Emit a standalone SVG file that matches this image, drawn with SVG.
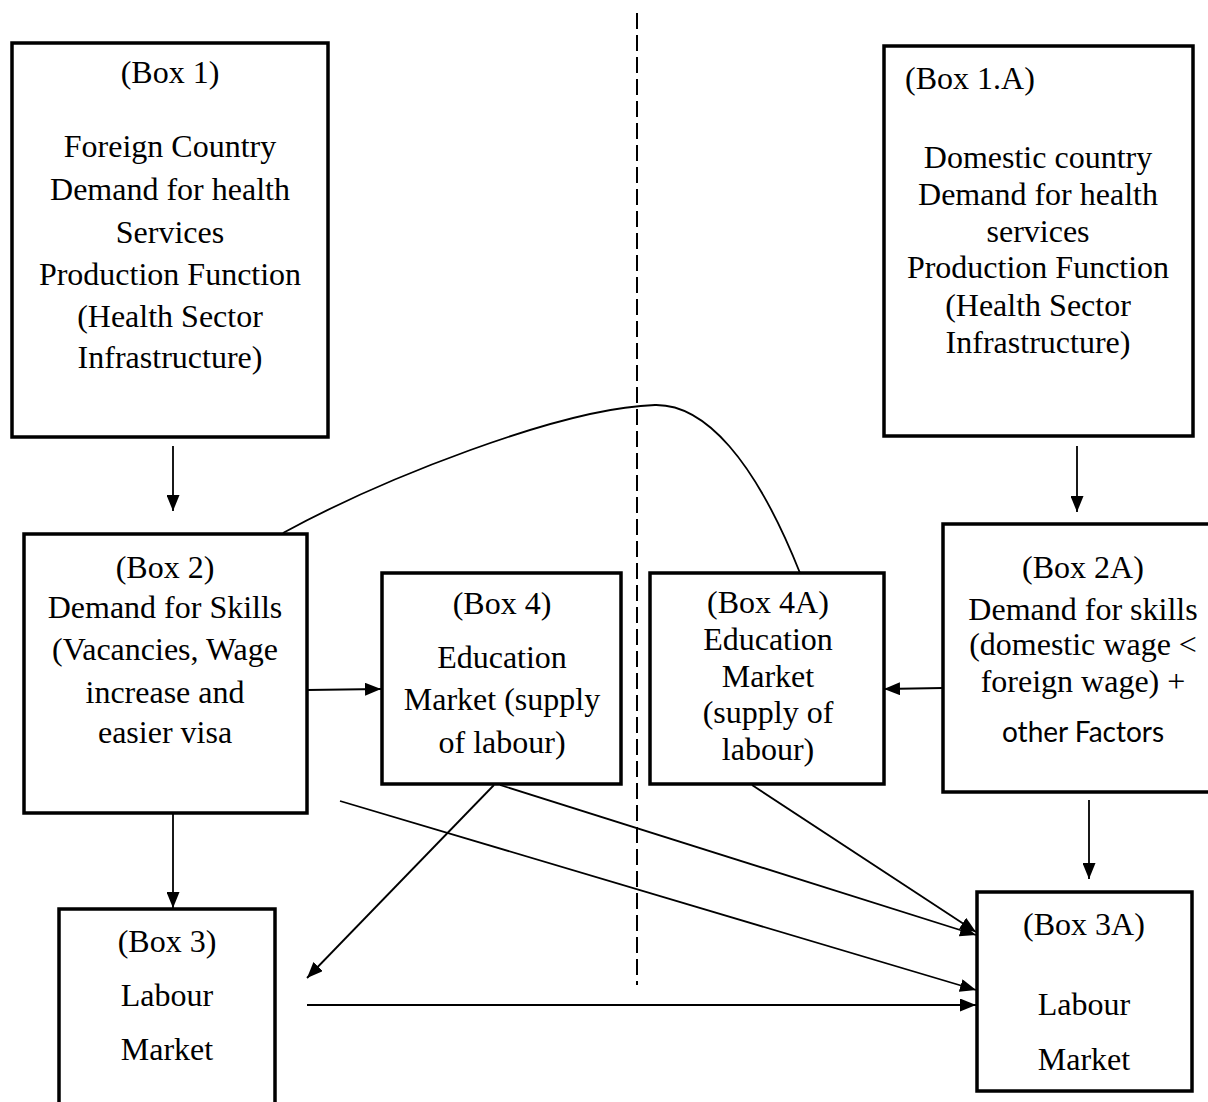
<svg xmlns="http://www.w3.org/2000/svg" width="1208" height="1102" viewBox="0 0 1208 1102">
<style>
.box{fill:#fff;stroke:#000;stroke-width:3.5}
.t{font-family:"Liberation Serif","Times New Roman",serif;font-size:32px;fill:#000;text-anchor:middle}
.c{font-family:Lato,"Liberation Sans",sans-serif;font-size:28px;fill:#000;text-anchor:middle}
.ln{fill:none;stroke:#000;stroke-width:1.8}
.dash{fill:none;stroke:#000;stroke-width:2;stroke-dasharray:16 6}
</style>
<defs>
<marker id="ah" viewBox="0 0 16 13" refX="16" refY="6.5" markerWidth="16" markerHeight="13" markerUnits="userSpaceOnUse" orient="auto">
<path d="M0,0 L16,6.5 L0,13 z" fill="#000"/>
</marker>
</defs>
<rect width="1208" height="1102" fill="#fff"/>
<g id="connectors">
<line class="dash" x1="637" y1="13" x2="637" y2="985"/>
<path class="ln" d="M283,533 C380,480 560,408 655,405 C705,404 755,460 800,573"/>
<line class="ln" x1="173" y1="446" x2="173" y2="511" marker-end="url(#ah)"/>
<line class="ln" x1="1077" y1="446" x2="1077" y2="512" marker-end="url(#ah)"/>
<line class="ln" x1="307" y1="690" x2="381" y2="689" marker-end="url(#ah)"/>
<line class="ln" x1="943" y1="688" x2="884" y2="689" marker-end="url(#ah)"/>
<line class="ln" x1="173" y1="813" x2="173" y2="908" marker-end="url(#ah)"/>
<line class="ln" x1="1089" y1="800" x2="1089" y2="879" marker-end="url(#ah)"/>
<line class="ln" x1="494" y1="785" x2="307" y2="978" marker-end="url(#ah)"/>
<line class="ln" x1="500" y1="785" x2="976" y2="935" marker-end="url(#ah)"/>
<line class="ln" x1="752" y1="785" x2="976" y2="932" marker-end="url(#ah)"/>
<line class="ln" x1="340" y1="801" x2="976" y2="990" marker-end="url(#ah)"/>
<line class="ln" x1="307" y1="1005" x2="976" y2="1005" marker-end="url(#ah)"/>
</g>
<g id="box1">
<rect class="box" x="12" y="43" width="316" height="394"/>
<text class="t" x="170" y="83">(Box 1)</text>
<text class="t" x="170" y="157">Foreign Country</text>
<text class="t" x="170" y="200">Demand for health</text>
<text class="t" x="170" y="243">Services</text>
<text class="t" x="170" y="285">Production Function</text>
<text class="t" x="170" y="327">(Health Sector</text>
<text class="t" x="170" y="368">Infrastructure)</text>
</g>
<g id="box1A">
<rect class="box" x="884" y="46" width="309" height="390"/>
<text class="t" x="970" y="89">(Box 1.A)</text>
<text class="t" x="1038" y="168">Domestic country</text>
<text class="t" x="1038" y="205">Demand for health</text>
<text class="t" x="1038" y="242">services</text>
<text class="t" x="1038" y="278">Production Function</text>
<text class="t" x="1038" y="316">(Health Sector</text>
<text class="t" x="1038" y="353">Infrastructure)</text>
</g>
<g id="box2">
<rect class="box" x="24" y="534" width="283" height="279"/>
<text class="t" x="165" y="578">(Box 2)</text>
<text class="t" x="165" y="618">Demand for Skills</text>
<text class="t" x="165" y="660">(Vacancies, Wage</text>
<text class="t" x="165" y="703">increase and</text>
<text class="t" x="165" y="743">easier visa</text>
</g>
<g id="box4">
<rect class="box" x="382" y="573" width="239" height="211"/>
<text class="t" x="502" y="614">(Box 4)</text>
<text class="t" x="502" y="668">Education</text>
<text class="t" x="502" y="710">Market (supply</text>
<text class="t" x="502" y="753">of labour)</text>
</g>
<g id="box4A">
<rect class="box" x="650" y="573" width="234" height="211"/>
<text class="t" x="768" y="613">(Box 4A)</text>
<text class="t" x="768" y="650">Education</text>
<text class="t" x="768" y="687">Market</text>
<text class="t" x="768" y="723">(supply of</text>
<text class="t" x="768" y="760">labour)</text>
</g>
<g id="box2A">
<rect class="box" x="943" y="524" width="280" height="268"/>
<text class="t" x="1083" y="578">(Box 2A)</text>
<text class="t" x="1083" y="620">Demand for skills</text>
<text class="t" x="1083" y="655">(domestic wage &lt;</text>
<text class="t" x="1083" y="692">foreign wage) +</text>
<text class="c" x="1083" y="742">other Factors</text>
</g>
<g id="box3">
<rect class="box" x="59" y="909" width="216" height="210"/>
<text class="t" x="167" y="952">(Box 3)</text>
<text class="t" x="167" y="1006">Labour</text>
<text class="t" x="167" y="1060">Market</text>
</g>
<g id="box3A">
<rect class="box" x="977" y="892" width="215" height="199"/>
<text class="t" x="1084" y="935">(Box 3A)</text>
<text class="t" x="1084" y="1015">Labour</text>
<text class="t" x="1084" y="1070">Market</text>
</g>
</svg>
